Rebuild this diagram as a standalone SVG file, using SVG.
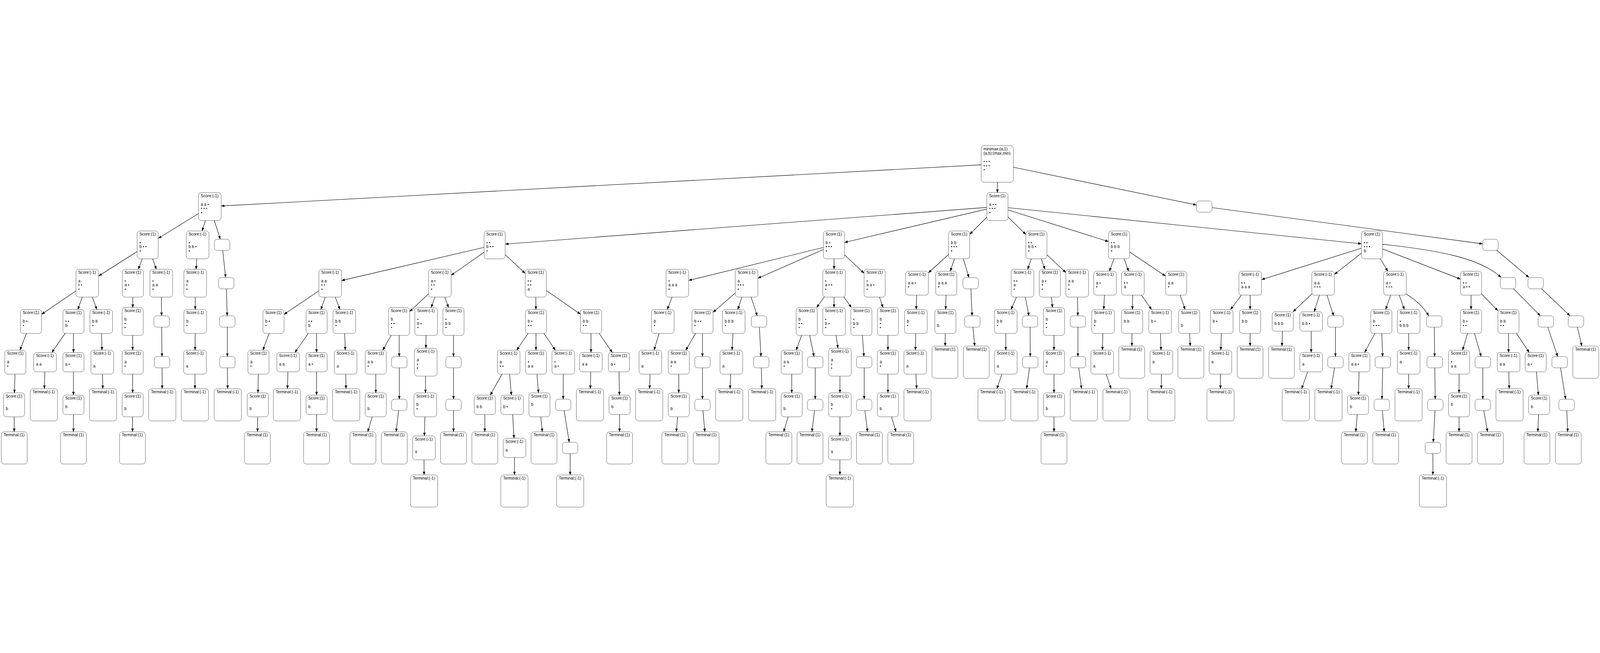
<svg xmlns="http://www.w3.org/2000/svg" width="7351" height="1672" viewBox="0 0 7351 1672">
<defs>
<marker id="ah" viewBox="0 0 15 12" refX="15" refY="6" markerWidth="15" markerHeight="12" markerUnits="userSpaceOnUse" orient="auto"><path d="M0,0 L15,6 L0,12 z" fill="#000"/></marker>
</defs>
<style>
svg{width:100vw;height:100vh;display:block}
#nodes rect{fill:#fff;stroke:#000;stroke-width:1.1;rx:13px;ry:13px}
#nodes text{font-family:"Liberation Sans",Arial,Helvetica,sans-serif;font-size:18.3px;fill:#000}
#edges path{fill:none;stroke:#000;stroke-width:2;marker-end:url(#ah)}
</style>
<rect width="7351" height="1672" fill="#fff"/>
<g id="edges">
<path d="M4582,89 L1016,282.2"/><path d="M4582,89 L4582.5,221"/><path d="M4582,89 L5497.5,277.7"/>
<path d="M964,285 L727,431.1"/><path d="M964,285 L928.4,397"/><path d="M964,285 L1012.2,435"/>
<path d="M4582.5,285 L2321,457.3"/><path d="M4582.5,285 L3880,449.6"/><path d="M4582.5,285 L4455,412.5"/><path d="M4582.5,285 L4713,413.3"/><path d="M4582.5,285 L5093,445.7"/><path d="M4582.5,285 L6255,456"/>
<path d="M5533,285 L6812,456.2"/>
<path d="M678.5,461 L453,604"/><path d="M678.5,461 L635.2,573"/><path d="M678.5,461 L718.3,573"/>
<path d="M908,461 L901,573"/><path d="M1020.5,461 L1036.7,611"/>
<path d="M2272.5,461 L1569,624.9"/><path d="M2272.5,461 L2073,600.6"/><path d="M2272.5,461 L2413,591.8"/>
<path d="M3831.5,461 L3164,624.3"/><path d="M3831.5,461 L3482,614.2"/><path d="M3831.5,461 L3832,573"/><path d="M3831.5,461 L3970,591.3"/>
<path d="M4406.5,461 L4265,589.7"/><path d="M4406.5,461 L4365.9,582"/><path d="M4406.5,461 L4451.7,611"/>
<path d="M4761.5,461 L4721.1,573"/><path d="M4761.5,461 L4801,573"/><path d="M4761.5,461 L4897,588.2"/>
<path d="M5141.5,461 L5097.2,582"/><path d="M5141.5,461 L5185.2,582"/><path d="M5141.5,461 L5355,604.4"/>
<path d="M6303.5,461 L5796,620.6"/><path d="M6303.5,461 L6131,596.2"/><path d="M6303.5,461 L6376,582"/><path d="M6303.5,461 L6710,618.2"/>
<path d="M6352,458 C6600,485 6800,520 6897,611"/>
<path d="M6847.5,461 L7024.8,611"/>
<path d="M401,637 L191,780"/><path d="M401,637 L357.3,758"/><path d="M401,637 L445,758"/>
<path d="M610.5,637 L609.9,749"/><path d="M741,637 L742.3,787"/><path d="M897,637 L897,758"/><path d="M1039.5,637 L1043.8,787"/>
<path d="M1517,637 L1305,780.2"/><path d="M1517,637 L1474,758"/><path d="M1517,637 L1561.7,758"/>
<path d="M2021,637 L1882,767.5"/><path d="M2021,637 L1980.9,749"/><path d="M2021,637 L2060.8,749"/>
<path d="M2461.5,637 L2462.2,758"/><path d="M2461.5,637 L2667,779.4"/>
<path d="M3112,637 L3065.9,758"/>
<path d="M3430,637 L3276,770.8"/><path d="M3430,637 L3389.4,758"/><path d="M3430,637 L3479,787"/>
<path d="M3832,637 L3752.1,749"/><path d="M3832,637 L3832,749"/><path d="M3832,637 L3911.9,749"/>
<path d="M4018.5,637 L4057.3,749"/><path d="M4213,637 L4209.6,758"/><path d="M4347.5,637 L4344.8,758"/><path d="M4459.5,637 L4466.3,787"/>
<path d="M4698,637 L4645.1,758"/><path d="M4698,637 L4727.4,787"/>
<path d="M4823.5,637 L4835.6,749"/><path d="M4949,637 L4952,787"/><path d="M5077,637 L5070.8,758"/>
<path d="M5205,637 L5202.6,758"/><path d="M5205,637 L5290.9,758"/>
<path d="M5403.5,637 L5444.8,758"/>
<path d="M5744,637 L5653.9,758"/><path d="M5744,637 L5743.6,758"/>
<path d="M6079,637 L5940.4,768.5"/><path d="M6079,637 L6037.9,768.5"/><path d="M6079,637 L6127.2,787"/>
<path d="M6409,637 L6366,758"/><path d="M6409,637 L6452.3,758"/>
<path d="M6440,675 C6495,705 6540,745 6564,787"/>
<path d="M6758.5,637 L6758.5,758"/><path d="M6758.5,637 L6882,763.4"/>
<path d="M6928.5,637 L7076.8,787"/><path d="M7055.5,637 L7213.2,787"/>
<path d="M142.5,813 L91.7,945"/><path d="M337.5,813 L238.1,955.5"/><path d="M337.5,813 L337.5,955.5"/>
<path d="M465,813 L468.5,945"/><path d="M609.5,813 L609.5,945"/><path d="M742.5,813 L744.2,974"/><path d="M897,813 L896.3,945"/><path d="M1044.5,813 L1044.5,974"/>
<path d="M1256.5,813 L1207.8,945"/><path d="M1454.5,813 L1355.1,955.5"/><path d="M1454.5,813 L1454.5,955.5"/><path d="M1582,813 L1586.2,945"/>
<path d="M1833.5,813 L1758,945"/><path d="M1833.5,813 L1834.4,974"/><path d="M1958,813 L1956.7,936"/><path d="M2083.5,813 L2083.5,974"/>
<path d="M2462.5,813 L2373.9,945"/><path d="M2462.5,813 L2462.5,945"/><path d="M2462.5,813 L2551.1,945"/>
<path d="M2715.5,813 L2715.1,955.5"/><path d="M2715.5,813 L2813,955.5"/>
<path d="M3045,813 L3004.8,945"/><path d="M3227.5,813 L3150.6,945"/><path d="M3227.5,813 L3227.5,974"/>
<path d="M3371,813 L3363.2,945"/><path d="M3487.5,813 L3496.1,974"/>
<path d="M3706.5,813 L3657.8,945"/><path d="M3706.5,813 L3740.1,974"/>
<path d="M3832,813 L3849.8,936"/><path d="M3957.5,813 L3969.1,974"/><path d="M4079.5,813 L4079.5,945"/>
<path d="M4208,813 L4205.9,945"/><path d="M4343.5,813 L4342.3,926"/><path d="M4467.5,813 L4478.4,926"/>
<path d="M4621,813 L4621,945"/><path d="M4732.5,813 L4733.4,974"/><path d="M4842.5,813 L4842.5,945"/><path d="M4952.5,813 L4952.5,974"/>
<path d="M5068,813 L5065.2,945"/><path d="M5201.5,813 L5200.3,926"/><path d="M5330,813 L5334.2,945"/><path d="M5463.5,813 L5468.3,926"/>
<path d="M5613,813 L5608.8,945"/><path d="M5743.5,813 L5743.5,926"/><path d="M5893.5,813 L5889.9,926"/><path d="M6024,813 L6024,955.5"/><path d="M6135.5,813 L6135.5,974"/>
<path d="M6346.5,813 L6269.5,955.5"/><path d="M6346.5,813 L6352.5,974"/><path d="M6472,813 L6472,945"/><path d="M6589.5,813 L6591.2,974"/>
<path d="M6758.5,813 L6719.7,945"/><path d="M6758.5,813 L6805,974"/>
<path d="M6930.5,813 L6931,955.5"/><path d="M6930.5,813 L7025.8,955.5"/>
<path d="M7102.5,813 L7156.7,974"/><path d="M7240.5,813 L7267.7,926"/>
<path d="M70.5,1000 L66.2,1141"/><path d="M207,1000 L203.6,1122"/><path d="M337.5,1000 L337.5,1151.5"/><path d="M470,1000 L472.2,1122"/>
<path d="M609.5,1000 L609.5,1141"/><path d="M744.5,1000 L745.1,1122"/><path d="M896,1000 L895.7,1122"/><path d="M1044.5,1000 L1045.7,1122"/>
<path d="M1187.5,1000 L1185.3,1141"/><path d="M1324,1000 L1320.6,1122"/><path d="M1454.5,1000 L1454.5,1151.5"/><path d="M1588,1000 L1589.6,1122"/>
<path d="M1726.5,1000 L1726.5,1141"/><path d="M1834.5,1000 L1834.5,1170"/><path d="M1956,1000 L1954.6,1141"/><path d="M2083.5,1000 L2083.5,1170"/>
<path d="M2337,1000 L2252.4,1151.5"/><path d="M2337,1000 L2349.4,1151.5"/><path d="M2462.5,1000 L2474,1141"/><path d="M2588,1000 L2587.5,1170"/>
<path d="M2715,1000 L2712.2,1122"/><path d="M2843.5,1000 L2845.8,1151.5"/><path d="M2988,1000 L2984.6,1122"/>
<path d="M3118.5,1000 L3118.5,1141"/><path d="M3227.5,1000 L3227.5,1170"/><path d="M3360,1000 L3354.1,1122"/><path d="M3497.5,1000 L3500,1122"/>
<path d="M3637.5,1000 L3637.5,1141"/><path d="M3745.5,1000 L3745.5,1170"/><path d="M3859,1000 L3859,1141"/><path d="M3970.5,1000 L3970.5,1170"/>
<path d="M4079.5,1000 L4079.5,1141"/><path d="M4205,1000 L4211.5,1122"/><path d="M4621,1000 L4580.2,1122"/><path d="M4733.5,1000 L4716.7,1122"/>
<path d="M4842.5,1000 L4842.5,1141"/><path d="M4952.5,1000 L4969.3,1122"/><path d="M5064,1000 L5104.8,1122"/><path d="M5336,1000 L5335.7,1122"/>
<path d="M5607,1000 L5607.3,1122"/><path d="M6024,1000 L5980.1,1122"/><path d="M6135.5,1000 L6115.6,1122"/>
<path d="M6245.5,1000 L6240.9,1151.5"/><path d="M6353.5,1000 L6349.2,1170"/><path d="M6472,1000 L6471.7,1122"/><path d="M6591.5,1000 L6594.1,1170"/>
<path d="M6703.5,1000 L6703.5,1141"/><path d="M6812.5,1000 L6812.5,1170"/><path d="M6931,1000 L6933.8,1122"/><path d="M7055.5,1000 L7067.9,1151.5"/><path d="M7165.5,1000 L7193.3,1170"/>
<path d="M64.5,1196 L65.5,1320"/><path d="M337.5,1196 L337.5,1320"/><path d="M609.5,1196 L608.9,1320"/><path d="M1184.5,1196 L1183.2,1320"/>
<path d="M1454.5,1196 L1454.5,1320"/><path d="M1726.5,1196 L1689.5,1320"/><path d="M1834.5,1196 L1820.1,1320"/><path d="M1954,1196 L1949.7,1339"/>
<path d="M2083.5,1196 L2083.5,1320"/><path d="M2227.5,1196 L2227.5,1320"/><path d="M2353,1196 L2361.5,1349.5"/><path d="M2478.5,1196 L2491.7,1320"/>
<path d="M2587.5,1196 L2615.3,1368"/><path d="M2846.5,1196 L2846.5,1320"/><path d="M3118.5,1196 L3107.2,1320"/><path d="M3227.5,1196 L3238.1,1320"/>
<path d="M3637.5,1196 L3600.5,1320"/><path d="M3745.5,1196 L3730.5,1320"/><path d="M3859,1196 L3859,1339"/><path d="M3970.5,1196 L3985.7,1320"/>
<path d="M4079.5,1196 L4116.5,1320"/><path d="M4842.5,1196 L4842.5,1320"/><path d="M6239.5,1196 L6228.9,1320"/><path d="M6348.5,1196 L6359.8,1320"/>
<path d="M6594.5,1196 L6584.9,1368"/><path d="M6703.5,1196 L6703.5,1320"/><path d="M6812.5,1196 L6834.4,1320"/><path d="M7071.5,1196 L7065.2,1320"/><path d="M7197.5,1196 L7202.5,1320"/>
<path d="M1948,1394 L1948.3,1518"/><path d="M2364,1394 L2363.7,1518"/><path d="M2619.5,1394 L2619.5,1518"/><path d="M3859,1394 L3858.7,1518"/><path d="M6583,1394 L6583.5,1518"/>
</g>
<g id="nodes">
<g id="n0"><rect x="4508" y="5" width="148" height="168"/><text x="4518.5" y="27">minimax:(a,1)</text><text x="4518.5" y="46">(a,b):(max,min)</text><text x="4518.5" y="84">• • •</text><text x="4518.5" y="103">• • •</text><text x="4518.5" y="122">•</text></g>
<g id="n1"><rect x="912" y="221" width="104" height="128"/><text x="922.5" y="242">Score:(-1)</text><text x="922.5" y="281">a a •</text><text x="922.5" y="300">• • •</text><text x="922.5" y="319">•</text></g>
<g id="n2"><rect x="4534" y="221" width="97" height="128"/><text x="4544.5" y="242">Score:(1)</text><text x="4544.5" y="281">a • •</text><text x="4544.5" y="300">• • •</text><text x="4544.5" y="319">•</text></g>
<g id="n3"><rect x="5497.5" y="259" width="71" height="52"/></g>
<g id="n4"><rect x="630" y="397" width="97" height="128"/><text x="640.5" y="418">Score:(1)</text><text x="640.5" y="457">•</text><text x="640.5" y="476">b • •</text><text x="640.5" y="495">•</text></g>
<g id="n5"><rect x="856" y="397" width="104" height="128"/><text x="866.5" y="418">Score:(-1)</text><text x="866.5" y="457">•</text><text x="866.5" y="476">b b •</text><text x="866.5" y="495">•</text></g>
<g id="n6"><rect x="985" y="435" width="71" height="52"/></g>
<g id="n7"><rect x="2224" y="397" width="97" height="128"/><text x="2234.5" y="418">Score:(1)</text><text x="2234.5" y="457">• •</text><text x="2234.5" y="476">b • •</text><text x="2234.5" y="495">•</text></g>
<g id="n8"><rect x="3783" y="397" width="97" height="128"/><text x="3793.5" y="418">Score:(1)</text><text x="3793.5" y="457">b •</text><text x="3793.5" y="476">• • •</text><text x="3793.5" y="495">•</text></g>
<g id="n9"><rect x="4358" y="397" width="97" height="128"/><text x="4368.5" y="418">Score:(1)</text><text x="4368.5" y="457">b b</text><text x="4368.5" y="476">• • •</text><text x="4368.5" y="495">•</text></g>
<g id="n10"><rect x="4713" y="397" width="97" height="128"/><text x="4723.5" y="418">Score:(1)</text><text x="4723.5" y="457">• •</text><text x="4723.5" y="476">b b •</text><text x="4723.5" y="495">•</text></g>
<g id="n11"><rect x="5093" y="397" width="97" height="128"/><text x="5103.5" y="418">Score:(1)</text><text x="5103.5" y="457">• •</text><text x="5103.5" y="476">b b b</text><text x="5103.5" y="495">•</text></g>
<g id="n12"><rect x="6255" y="397" width="97" height="128"/><text x="6265.5" y="418">Score:(1)</text><text x="6265.5" y="457">• •</text><text x="6265.5" y="476">• • •</text><text x="6265.5" y="495">b</text></g>
<g id="n13"><rect x="6812" y="435" width="71" height="52"/></g>
<g id="n14"><rect x="349" y="573" width="104" height="128"/><text x="359.5" y="594">Score:(-1)</text><text x="359.5" y="633">a</text><text x="359.5" y="652">• •</text><text x="359.5" y="671">•</text></g>
<g id="n15"><rect x="562" y="573" width="97" height="128"/><text x="572.5" y="594">Score:(1)</text><text x="572.5" y="633">•</text><text x="572.5" y="652">a •</text><text x="572.5" y="671">•</text></g>
<g id="n16"><rect x="689" y="573" width="104" height="128"/><text x="699.5" y="594">Score:(-1)</text><text x="699.5" y="633">•</text><text x="699.5" y="652">a a</text><text x="699.5" y="671">•</text></g>
<g id="n17"><rect x="845" y="573" width="104" height="128"/><text x="855.5" y="594">Score:(-1)</text><text x="855.5" y="633">a</text><text x="855.5" y="652">•</text><text x="855.5" y="671">•</text></g>
<g id="n18"><rect x="1004" y="611" width="71" height="52"/></g>
<g id="n19"><rect x="1465" y="573" width="104" height="128"/><text x="1475.5" y="594">Score:(-1)</text><text x="1475.5" y="633">a a</text><text x="1475.5" y="652">• •</text><text x="1475.5" y="671">•</text></g>
<g id="n20"><rect x="1969" y="573" width="104" height="128"/><text x="1979.5" y="594">Score:(-1)</text><text x="1979.5" y="633">a •</text><text x="1979.5" y="652">• •</text><text x="1979.5" y="671">•</text></g>
<g id="n21"><rect x="2413" y="573" width="97" height="128"/><text x="2423.5" y="594">Score:(1)</text><text x="2423.5" y="633">• •</text><text x="2423.5" y="652">• •</text><text x="2423.5" y="671">a</text></g>
<g id="n22"><rect x="3060" y="573" width="104" height="128"/><text x="3070.5" y="594">Score:(-1)</text><text x="3070.5" y="633">•</text><text x="3070.5" y="652">a a a</text><text x="3070.5" y="671">•</text></g>
<g id="n23"><rect x="3378" y="573" width="104" height="128"/><text x="3388.5" y="594">Score:(-1)</text><text x="3388.5" y="633">a</text><text x="3388.5" y="652">• • •</text><text x="3388.5" y="671">•</text></g>
<g id="n24"><rect x="3780" y="573" width="104" height="128"/><text x="3790.5" y="594">Score:(-1)</text><text x="3790.5" y="633">•</text><text x="3790.5" y="652">a • •</text><text x="3790.5" y="671">•</text></g>
<g id="n25"><rect x="3970" y="573" width="97" height="128"/><text x="3980.5" y="594">Score:(1)</text><text x="3980.5" y="633">•</text><text x="3980.5" y="652">a a •</text><text x="3980.5" y="671">•</text></g>
<g id="n26"><rect x="4161" y="582" width="104" height="110"/><text x="4171.5" y="603">Score:(-1)</text><text x="4171.5" y="642">a a •</text><text x="4171.5" y="661">•</text></g>
<g id="n27"><rect x="4299" y="582" width="97" height="110"/><text x="4309.5" y="603">Score:(1)</text><text x="4309.5" y="642">a a a</text><text x="4309.5" y="661">•</text></g>
<g id="n28"><rect x="4424" y="611" width="71" height="52"/></g>
<g id="n29"><rect x="4646" y="573" width="104" height="128"/><text x="4656.5" y="594">Score:(-1)</text><text x="4656.5" y="633">• •</text><text x="4656.5" y="652">a</text><text x="4656.5" y="671">•</text></g>
<g id="n30"><rect x="4775" y="573" width="97" height="128"/><text x="4785.5" y="594">Score:(1)</text><text x="4785.5" y="633">a •</text><text x="4785.5" y="652">•</text><text x="4785.5" y="671">•</text></g>
<g id="n31"><rect x="4897" y="573" width="104" height="128"/><text x="4907.5" y="594">Score:(-1)</text><text x="4907.5" y="633">a a</text><text x="4907.5" y="652">•</text><text x="4907.5" y="671">•</text></g>
<g id="n32"><rect x="5025" y="582" width="104" height="110"/><text x="5035.5" y="603">Score:(-1)</text><text x="5035.5" y="642">a •</text><text x="5035.5" y="661">•</text></g>
<g id="n33"><rect x="5153" y="582" width="104" height="110"/><text x="5163.5" y="603">Score:(-1)</text><text x="5163.5" y="642">• •</text><text x="5163.5" y="661">a</text></g>
<g id="n34"><rect x="5355" y="582" width="97" height="110"/><text x="5365.5" y="603">Score:(1)</text><text x="5365.5" y="642">a a</text><text x="5365.5" y="661">•</text></g>
<g id="n35"><rect x="5692" y="582" width="104" height="110"/><text x="5702.5" y="603">Score:(-1)</text><text x="5702.5" y="642">• •</text><text x="5702.5" y="661">a a a</text></g>
<g id="n36"><rect x="6027" y="582" width="104" height="110"/><text x="6037.5" y="603">Score:(-1)</text><text x="6037.5" y="642">a a</text><text x="6037.5" y="661">• • •</text></g>
<g id="n37"><rect x="6357" y="582" width="104" height="110"/><text x="6367.5" y="603">Score:(-1)</text><text x="6367.5" y="642">a •</text><text x="6367.5" y="661">• • •</text></g>
<g id="n38"><rect x="6710" y="582" width="97" height="110"/><text x="6720.5" y="603">Score:(1)</text><text x="6720.5" y="642">• •</text><text x="6720.5" y="661">a • •</text></g>
<g id="n39"><rect x="6893" y="611" width="71" height="52"/></g>
<g id="n40"><rect x="7020" y="611" width="71" height="52"/></g>
<g id="n41"><rect x="94" y="758" width="97" height="110"/><text x="104.5" y="779">Score:(1)</text><text x="104.5" y="818">b •</text><text x="104.5" y="837">•</text></g>
<g id="n42"><rect x="289" y="758" width="97" height="110"/><text x="299.5" y="779">Score:(1)</text><text x="299.5" y="818">• •</text><text x="299.5" y="837">b</text></g>
<g id="n43"><rect x="413" y="758" width="104" height="110"/><text x="423.5" y="779">Score:(-1)</text><text x="423.5" y="818">b b</text><text x="423.5" y="837">•</text></g>
<g id="n44"><rect x="561" y="749" width="97" height="128"/><text x="571.5" y="770">Score:(1)</text><text x="571.5" y="809">b</text><text x="571.5" y="828">•</text><text x="571.5" y="847">•</text></g>
<g id="n45"><rect x="707" y="787" width="71" height="52"/></g>
<g id="n46"><rect x="845" y="758" width="104" height="110"/><text x="855.5" y="779">Score:(-1)</text><text x="855.5" y="818">b</text><text x="855.5" y="837">•</text></g>
<g id="n47"><rect x="1009" y="787" width="71" height="52"/></g>
<g id="n48"><rect x="1208" y="758" width="97" height="110"/><text x="1218.5" y="779">Score:(1)</text><text x="1218.5" y="818">b •</text><text x="1218.5" y="837">•</text></g>
<g id="n49"><rect x="1406" y="758" width="97" height="110"/><text x="1416.5" y="779">Score:(1)</text><text x="1416.5" y="818">• •</text><text x="1416.5" y="837">b</text></g>
<g id="n50"><rect x="1530" y="758" width="104" height="110"/><text x="1540.5" y="779">Score:(-1)</text><text x="1540.5" y="818">b b</text><text x="1540.5" y="837">•</text></g>
<g id="n51"><rect x="1785" y="749" width="97" height="128"/><text x="1795.5" y="770">Score:(1)</text><text x="1795.5" y="809">b</text><text x="1795.5" y="828">• •</text><text x="1795.5" y="847">•</text></g>
<g id="n52"><rect x="1906" y="749" width="104" height="128"/><text x="1916.5" y="770">Score:(-1)</text><text x="1916.5" y="809">•</text><text x="1916.5" y="828">b •</text><text x="1916.5" y="847">•</text></g>
<g id="n53"><rect x="2035" y="749" width="97" height="128"/><text x="2045.5" y="770">Score:(1)</text><text x="2045.5" y="809">•</text><text x="2045.5" y="828">b b</text><text x="2045.5" y="847">•</text></g>
<g id="n54"><rect x="2414" y="758" width="97" height="110"/><text x="2424.5" y="779">Score:(1)</text><text x="2424.5" y="818">b •</text><text x="2424.5" y="837">• •</text></g>
<g id="n55"><rect x="2667" y="758" width="97" height="110"/><text x="2677.5" y="779">Score:(1)</text><text x="2677.5" y="818">b b</text><text x="2677.5" y="837">• •</text></g>
<g id="n56"><rect x="2993" y="758" width="104" height="110"/><text x="3003.5" y="779">Score:(-1)</text><text x="3003.5" y="818">b</text><text x="3003.5" y="837">•</text></g>
<g id="n57"><rect x="3179" y="758" width="97" height="110"/><text x="3189.5" y="779">Score:(1)</text><text x="3189.5" y="818">b • •</text><text x="3189.5" y="837">•</text></g>
<g id="n58"><rect x="3319" y="758" width="104" height="110"/><text x="3329.5" y="779">Score:(-1)</text><text x="3329.5" y="818">b b b</text><text x="3329.5" y="837">•</text></g>
<g id="n59"><rect x="3452" y="787" width="71" height="52"/></g>
<g id="n60"><rect x="3658" y="749" width="97" height="128"/><text x="3668.5" y="770">Score:(1)</text><text x="3668.5" y="809">b</text><text x="3668.5" y="828">• •</text><text x="3668.5" y="847">•</text></g>
<g id="n61"><rect x="3780" y="749" width="104" height="128"/><text x="3790.5" y="770">Score:(-1)</text><text x="3790.5" y="809">•</text><text x="3790.5" y="828">b •</text><text x="3790.5" y="847">•</text></g>
<g id="n62"><rect x="3909" y="749" width="97" height="128"/><text x="3919.5" y="770">Score:(1)</text><text x="3919.5" y="809">•</text><text x="3919.5" y="828">b b</text><text x="3919.5" y="847">•</text></g>
<g id="n63"><rect x="4031" y="749" width="97" height="128"/><text x="4041.5" y="770">Score:(1)</text><text x="4041.5" y="809">b</text><text x="4041.5" y="828">•</text><text x="4041.5" y="847">•</text></g>
<g id="n64"><rect x="4156" y="758" width="104" height="110"/><text x="4166.5" y="779">Score:(-1)</text><text x="4166.5" y="818">b</text><text x="4166.5" y="837">•</text></g>
<g id="n65"><rect x="4295" y="758" width="97" height="110"/><text x="4305.5" y="779">Score:(1)</text><text x="4305.5" y="837">b</text></g>
<g id="n66"><rect x="4432" y="787" width="71" height="52"/></g>
<g id="n67"><rect x="4569" y="758" width="104" height="110"/><text x="4579.5" y="779">Score:(-1)</text><text x="4579.5" y="818">b b</text><text x="4579.5" y="837">•</text></g>
<g id="n68"><rect x="4697" y="787" width="71" height="52"/></g>
<g id="n69"><rect x="4794" y="749" width="97" height="128"/><text x="4804.5" y="770">Score:(1)</text><text x="4804.5" y="809">b</text><text x="4804.5" y="828">•</text><text x="4804.5" y="847">•</text></g>
<g id="n70"><rect x="4917" y="787" width="71" height="52"/></g>
<g id="n71"><rect x="5016" y="758" width="104" height="110"/><text x="5026.5" y="779">Score:(-1)</text><text x="5026.5" y="818">b</text><text x="5026.5" y="837">•</text></g>
<g id="n72"><rect x="5153" y="758" width="97" height="110"/><text x="5163.5" y="779">Score:(1)</text><text x="5163.5" y="818">b b</text></g>
<g id="n73"><rect x="5278" y="758" width="104" height="110"/><text x="5288.5" y="779">Score:(-1)</text><text x="5288.5" y="818">b •</text></g>
<g id="n74"><rect x="5415" y="758" width="97" height="110"/><text x="5425.5" y="779">Score:(1)</text><text x="5425.5" y="837">b</text></g>
<g id="n75"><rect x="5561" y="758" width="104" height="110"/><text x="5571.5" y="779">Score:(-1)</text><text x="5571.5" y="818">b •</text></g>
<g id="n76"><rect x="5695" y="758" width="97" height="110"/><text x="5705.5" y="779">Score:(1)</text><text x="5705.5" y="818">b b</text></g>
<g id="n77"><rect x="5845" y="768.5" width="97" height="89"/><text x="5855.5" y="789.5">Score:(1)</text><text x="5855.5" y="828.5">b b b</text></g>
<g id="n78"><rect x="5972" y="768.5" width="104" height="89"/><text x="5982.5" y="789.5">Score:(-1)</text><text x="5982.5" y="828.5">b b •</text></g>
<g id="n79"><rect x="6100" y="787" width="71" height="52"/></g>
<g id="n80"><rect x="6298" y="758" width="97" height="110"/><text x="6308.5" y="779">Score:(1)</text><text x="6308.5" y="818">b</text><text x="6308.5" y="837">• • •</text></g>
<g id="n81"><rect x="6420" y="758" width="104" height="110"/><text x="6430.5" y="779">Score:(-1)</text><text x="6430.5" y="818">•</text><text x="6430.5" y="837">b b b</text></g>
<g id="n82"><rect x="6554" y="787" width="71" height="52"/></g>
<g id="n83"><rect x="6710" y="758" width="97" height="110"/><text x="6720.5" y="779">Score:(1)</text><text x="6720.5" y="818">b •</text><text x="6720.5" y="837">• •</text></g>
<g id="n84"><rect x="6882" y="758" width="97" height="110"/><text x="6892.5" y="779">Score:(1)</text><text x="6892.5" y="818">b b</text><text x="6892.5" y="837">• •</text></g>
<g id="n85"><rect x="7067" y="787" width="71" height="52"/></g>
<g id="n86"><rect x="7205" y="787" width="71" height="52"/></g>
<g id="n87"><rect x="22" y="945" width="97" height="110"/><text x="32.5" y="966">Score:(1)</text><text x="32.5" y="1005">a</text><text x="32.5" y="1024">•</text></g>
<g id="n88"><rect x="155" y="955.5" width="104" height="89"/><text x="165.5" y="976.5">Score:(-1)</text><text x="165.5" y="1015.5">a a</text></g>
<g id="n89"><rect x="289" y="955.5" width="97" height="89"/><text x="299.5" y="976.5">Score:(1)</text><text x="299.5" y="1015.5">a •</text></g>
<g id="n90"><rect x="418" y="945" width="104" height="110"/><text x="428.5" y="966">Score:(-1)</text><text x="428.5" y="1024">a</text></g>
<g id="n91"><rect x="561" y="945" width="97" height="110"/><text x="571.5" y="966">Score:(1)</text><text x="571.5" y="1005">a</text><text x="571.5" y="1024">•</text></g>
<g id="n92"><rect x="709" y="974" width="71" height="52"/></g>
<g id="n93"><rect x="844" y="945" width="104" height="110"/><text x="854.5" y="966">Score:(-1)</text><text x="854.5" y="1024">a</text></g>
<g id="n94"><rect x="1009" y="974" width="71" height="52"/></g>
<g id="n95"><rect x="1139" y="945" width="97" height="110"/><text x="1149.5" y="966">Score:(1)</text><text x="1149.5" y="1005">a</text><text x="1149.5" y="1024">•</text></g>
<g id="n96"><rect x="1272" y="955.5" width="104" height="89"/><text x="1282.5" y="976.5">Score:(-1)</text><text x="1282.5" y="1015.5">a a</text></g>
<g id="n97"><rect x="1406" y="955.5" width="97" height="89"/><text x="1416.5" y="976.5">Score:(1)</text><text x="1416.5" y="1015.5">a •</text></g>
<g id="n98"><rect x="1536" y="945" width="104" height="110"/><text x="1546.5" y="966">Score:(-1)</text><text x="1546.5" y="1024">a</text></g>
<g id="n99"><rect x="1678" y="945" width="97" height="110"/><text x="1688.5" y="966">Score:(1)</text><text x="1688.5" y="1005">a a</text><text x="1688.5" y="1024">•</text></g>
<g id="n100"><rect x="1799" y="974" width="71" height="52"/></g>
<g id="n101"><rect x="1904" y="936" width="104" height="128"/><text x="1914.5" y="957">Score:(-1)</text><text x="1914.5" y="996">a</text><text x="1914.5" y="1015">•</text><text x="1914.5" y="1034">•</text></g>
<g id="n102"><rect x="2048" y="974" width="71" height="52"/></g>
<g id="n103"><rect x="2285" y="945" width="104" height="110"/><text x="2295.5" y="966">Score:(-1)</text><text x="2295.5" y="1005">a</text><text x="2295.5" y="1024">• •</text></g>
<g id="n104"><rect x="2414" y="945" width="97" height="110"/><text x="2424.5" y="966">Score:(1)</text><text x="2424.5" y="1005">•</text><text x="2424.5" y="1024">a a</text></g>
<g id="n105"><rect x="2536" y="945" width="104" height="110"/><text x="2546.5" y="966">Score:(-1)</text><text x="2546.5" y="1005">•</text><text x="2546.5" y="1024">a •</text></g>
<g id="n106"><rect x="2663" y="955.5" width="104" height="89"/><text x="2673.5" y="976.5">Score:(-1)</text><text x="2673.5" y="1015.5">a a</text></g>
<g id="n107"><rect x="2795" y="955.5" width="97" height="89"/><text x="2805.5" y="976.5">Score:(1)</text><text x="2805.5" y="1015.5">a •</text></g>
<g id="n108"><rect x="2936" y="945" width="104" height="110"/><text x="2946.5" y="966">Score:(-1)</text><text x="2946.5" y="1024">a</text></g>
<g id="n109"><rect x="3070" y="945" width="97" height="110"/><text x="3080.5" y="966">Score:(1)</text><text x="3080.5" y="1005">a a</text><text x="3080.5" y="1024">•</text></g>
<g id="n110"><rect x="3192" y="974" width="71" height="52"/></g>
<g id="n111"><rect x="3308" y="945" width="104" height="110"/><text x="3318.5" y="966">Score:(-1)</text><text x="3318.5" y="1024">a</text></g>
<g id="n112"><rect x="3462" y="974" width="71" height="52"/></g>
<g id="n113"><rect x="3589" y="945" width="97" height="110"/><text x="3599.5" y="966">Score:(1)</text><text x="3599.5" y="1005">a a</text><text x="3599.5" y="1024">•</text></g>
<g id="n114"><rect x="3710" y="974" width="71" height="52"/></g>
<g id="n115"><rect x="3807" y="936" width="104" height="128"/><text x="3817.5" y="957">Score:(-1)</text><text x="3817.5" y="996">a</text><text x="3817.5" y="1015">•</text><text x="3817.5" y="1034">•</text></g>
<g id="n116"><rect x="3935" y="974" width="71" height="52"/></g>
<g id="n117"><rect x="4031" y="945" width="97" height="110"/><text x="4041.5" y="966">Score:(1)</text><text x="4041.5" y="1005">a</text><text x="4041.5" y="1024">•</text></g>
<g id="n118"><rect x="4153" y="945" width="104" height="110"/><text x="4163.5" y="966">Score:(-1)</text><text x="4163.5" y="1024">a</text></g>
<g id="n119"><rect x="4282" y="926" width="119" height="148"/><text x="4292.5" y="947">Terminal:(1)</text></g>
<g id="n120"><rect x="4426" y="926" width="119" height="148"/><text x="4436.5" y="947">Terminal:(1)</text></g>
<g id="n121"><rect x="4569" y="945" width="104" height="110"/><text x="4579.5" y="966">Score:(-1)</text><text x="4579.5" y="1024">a</text></g>
<g id="n122"><rect x="4698" y="974" width="71" height="52"/></g>
<g id="n123"><rect x="4794" y="945" width="97" height="110"/><text x="4804.5" y="966">Score:(1)</text><text x="4804.5" y="1005">a</text><text x="4804.5" y="1024">•</text></g>
<g id="n124"><rect x="4917" y="974" width="71" height="52"/></g>
<g id="n125"><rect x="5012" y="945" width="104" height="110"/><text x="5022.5" y="966">Score:(-1)</text><text x="5022.5" y="1024">a</text></g>
<g id="n126"><rect x="5140" y="926" width="119" height="148"/><text x="5150.5" y="947">Terminal:(1)</text></g>
<g id="n127"><rect x="5284" y="945" width="104" height="110"/><text x="5294.5" y="966">Score:(-1)</text><text x="5294.5" y="1005">a</text></g>
<g id="n128"><rect x="5412" y="926" width="119" height="148"/><text x="5422.5" y="947">Terminal:(1)</text></g>
<g id="n129"><rect x="5555" y="945" width="104" height="110"/><text x="5565.5" y="966">Score:(-1)</text><text x="5565.5" y="1005">a</text></g>
<g id="n130"><rect x="5684" y="926" width="119" height="148"/><text x="5694.5" y="947">Terminal:(1)</text></g>
<g id="n131"><rect x="5828" y="926" width="119" height="148"/><text x="5838.5" y="947">Terminal:(1)</text></g>
<g id="n132"><rect x="5972" y="955.5" width="104" height="89"/><text x="5982.5" y="976.5">Score:(-1)</text><text x="5982.5" y="1015.5">a</text></g>
<g id="n133"><rect x="6100" y="974" width="71" height="52"/></g>
<g id="n134"><rect x="6197" y="955.5" width="97" height="89"/><text x="6207.5" y="976.5">Score:(1)</text><text x="6207.5" y="1015.5">a a •</text></g>
<g id="n135"><rect x="6318" y="974" width="71" height="52"/></g>
<g id="n136"><rect x="6420" y="945" width="104" height="110"/><text x="6430.5" y="966">Score:(-1)</text><text x="6430.5" y="1005">a</text></g>
<g id="n137"><rect x="6556" y="974" width="71" height="52"/></g>
<g id="n138"><rect x="6655" y="945" width="97" height="110"/><text x="6665.5" y="966">Score:(1)</text><text x="6665.5" y="1005">•</text><text x="6665.5" y="1024">a a</text></g>
<g id="n139"><rect x="6777" y="974" width="71" height="52"/></g>
<g id="n140"><rect x="6879" y="955.5" width="104" height="89"/><text x="6889.5" y="976.5">Score:(-1)</text><text x="6889.5" y="1015.5">a a</text></g>
<g id="n141"><rect x="7007" y="955.5" width="97" height="89"/><text x="7017.5" y="976.5">Score:(1)</text><text x="7017.5" y="1015.5">a •</text></g>
<g id="n142"><rect x="7130" y="974" width="71" height="52"/></g>
<g id="n143"><rect x="7226" y="926" width="119" height="148"/><text x="7236.5" y="947">Terminal:(1)</text></g>
<g id="n144"><rect x="16" y="1141" width="97" height="110"/><text x="26.5" y="1162">Score:(1)</text><text x="26.5" y="1220">b</text></g>
<g id="n145"><rect x="139" y="1122" width="125" height="148"/><text x="149.5" y="1143">Terminal:(-1)</text></g>
<g id="n146"><rect x="289" y="1151.5" width="97" height="89"/><text x="299.5" y="1172.5">Score:(1)</text><text x="299.5" y="1211.5">b</text></g>
<g id="n147"><rect x="411" y="1122" width="125" height="148"/><text x="421.5" y="1143">Terminal:(-1)</text></g>
<g id="n148"><rect x="561" y="1141" width="97" height="110"/><text x="571.5" y="1162">Score:(1)</text><text x="571.5" y="1220">b</text></g>
<g id="n149"><rect x="683" y="1122" width="125" height="148"/><text x="693.5" y="1143">Terminal:(-1)</text></g>
<g id="n150"><rect x="833" y="1122" width="125" height="148"/><text x="843.5" y="1143">Terminal:(-1)</text></g>
<g id="n151"><rect x="984" y="1122" width="125" height="148"/><text x="994.5" y="1143">Terminal:(-1)</text></g>
<g id="n152"><rect x="1136" y="1141" width="97" height="110"/><text x="1146.5" y="1162">Score:(1)</text><text x="1146.5" y="1220">b</text></g>
<g id="n153"><rect x="1256" y="1122" width="125" height="148"/><text x="1266.5" y="1143">Terminal:(-1)</text></g>
<g id="n154"><rect x="1406" y="1151.5" width="97" height="89"/><text x="1416.5" y="1172.5">Score:(1)</text><text x="1416.5" y="1211.5">b</text></g>
<g id="n155"><rect x="1528" y="1122" width="125" height="148"/><text x="1538.5" y="1143">Terminal:(-1)</text></g>
<g id="n156"><rect x="1678" y="1141" width="97" height="110"/><text x="1688.5" y="1162">Score:(1)</text><text x="1688.5" y="1220">b</text></g>
<g id="n157"><rect x="1799" y="1170" width="71" height="52"/></g>
<g id="n158"><rect x="1902" y="1141" width="104" height="110"/><text x="1912.5" y="1162">Score:(-1)</text><text x="1912.5" y="1201">b</text><text x="1912.5" y="1220">•</text></g>
<g id="n159"><rect x="2048" y="1170" width="71" height="52"/></g>
<g id="n160"><rect x="2179" y="1151.5" width="97" height="89"/><text x="2189.5" y="1172.5">Score:(1)</text><text x="2189.5" y="1211.5">b b</text></g>
<g id="n161"><rect x="2301" y="1151.5" width="104" height="89"/><text x="2311.5" y="1172.5">Score:(-1)</text><text x="2311.5" y="1211.5">b •</text></g>
<g id="n162"><rect x="2430" y="1141" width="97" height="110"/><text x="2440.5" y="1162">Score:(1)</text><text x="2440.5" y="1201">b</text></g>
<g id="n163"><rect x="2552" y="1170" width="71" height="52"/></g>
<g id="n164"><rect x="2648" y="1122" width="125" height="148"/><text x="2658.5" y="1143">Terminal:(-1)</text></g>
<g id="n165"><rect x="2798" y="1151.5" width="97" height="89"/><text x="2808.5" y="1172.5">Score:(1)</text><text x="2808.5" y="1211.5">b</text></g>
<g id="n166"><rect x="2920" y="1122" width="125" height="148"/><text x="2930.5" y="1143">Terminal:(-1)</text></g>
<g id="n167"><rect x="3070" y="1141" width="97" height="110"/><text x="3080.5" y="1162">Score:(1)</text><text x="3080.5" y="1220">b</text></g>
<g id="n168"><rect x="3192" y="1170" width="71" height="52"/></g>
<g id="n169"><rect x="3288" y="1122" width="125" height="148"/><text x="3298.5" y="1143">Terminal:(-1)</text></g>
<g id="n170"><rect x="3439" y="1122" width="125" height="148"/><text x="3449.5" y="1143">Terminal:(-1)</text></g>
<g id="n171"><rect x="3589" y="1141" width="97" height="110"/><text x="3599.5" y="1162">Score:(1)</text><text x="3599.5" y="1220">b</text></g>
<g id="n172"><rect x="3710" y="1170" width="71" height="52"/></g>
<g id="n173"><rect x="3807" y="1141" width="104" height="110"/><text x="3817.5" y="1162">Score:(-1)</text><text x="3817.5" y="1201">b</text><text x="3817.5" y="1220">•</text></g>
<g id="n174"><rect x="3935" y="1170" width="71" height="52"/></g>
<g id="n175"><rect x="4031" y="1141" width="97" height="110"/><text x="4041.5" y="1162">Score:(1)</text><text x="4041.5" y="1220">b</text></g>
<g id="n176"><rect x="4153" y="1122" width="125" height="148"/><text x="4163.5" y="1143">Terminal:(-1)</text></g>
<g id="n177"><rect x="4493" y="1122" width="125" height="148"/><text x="4503.5" y="1143">Terminal:(-1)</text></g>
<g id="n178"><rect x="4644" y="1122" width="125" height="148"/><text x="4654.5" y="1143">Terminal:(-1)</text></g>
<g id="n179"><rect x="4794" y="1141" width="97" height="110"/><text x="4804.5" y="1162">Score:(1)</text><text x="4804.5" y="1220">b</text></g>
<g id="n180"><rect x="4917" y="1122" width="125" height="148"/><text x="4927.5" y="1143">Terminal:(-1)</text></g>
<g id="n181"><rect x="5067" y="1122" width="125" height="148"/><text x="5077.5" y="1143">Terminal:(-1)</text></g>
<g id="n182"><rect x="5273" y="1122" width="125" height="148"/><text x="5283.5" y="1143">Terminal:(-1)</text></g>
<g id="n183"><rect x="5545" y="1122" width="125" height="148"/><text x="5555.5" y="1143">Terminal:(-1)</text></g>
<g id="n184"><rect x="5891" y="1122" width="125" height="148"/><text x="5901.5" y="1143">Terminal:(-1)</text></g>
<g id="n185"><rect x="6041" y="1122" width="125" height="148"/><text x="6051.5" y="1143">Terminal:(-1)</text></g>
<g id="n186"><rect x="6191" y="1151.5" width="97" height="89"/><text x="6201.5" y="1172.5">Score:(1)</text><text x="6201.5" y="1211.5">b</text></g>
<g id="n187"><rect x="6313" y="1170" width="71" height="52"/></g>
<g id="n188"><rect x="6409" y="1122" width="125" height="148"/><text x="6419.5" y="1143">Terminal:(-1)</text></g>
<g id="n189"><rect x="6559" y="1170" width="71" height="52"/></g>
<g id="n190"><rect x="6655" y="1141" width="97" height="110"/><text x="6665.5" y="1162">Score:(1)</text><text x="6665.5" y="1201">b</text></g>
<g id="n191"><rect x="6777" y="1170" width="71" height="52"/></g>
<g id="n192"><rect x="6873" y="1122" width="125" height="148"/><text x="6883.5" y="1143">Terminal:(-1)</text></g>
<g id="n193"><rect x="7023" y="1151.5" width="97" height="89"/><text x="7033.5" y="1172.5">Score:(1)</text><text x="7033.5" y="1211.5">b</text></g>
<g id="n194"><rect x="7162" y="1170" width="71" height="52"/></g>
<g id="n195"><rect x="6" y="1320" width="119" height="148"/><text x="16.5" y="1341">Terminal:(1)</text></g>
<g id="n196"><rect x="278" y="1320" width="119" height="148"/><text x="288.5" y="1341">Terminal:(1)</text></g>
<g id="n197"><rect x="549" y="1320" width="119" height="148"/><text x="559.5" y="1341">Terminal:(1)</text></g>
<g id="n198"><rect x="1123" y="1320" width="119" height="148"/><text x="1133.5" y="1341">Terminal:(1)</text></g>
<g id="n199"><rect x="1395" y="1320" width="119" height="148"/><text x="1405.5" y="1341">Terminal:(1)</text></g>
<g id="n200"><rect x="1608" y="1320" width="119" height="148"/><text x="1618.5" y="1341">Terminal:(1)</text></g>
<g id="n201"><rect x="1752" y="1320" width="119" height="148"/><text x="1762.5" y="1341">Terminal:(1)</text></g>
<g id="n202"><rect x="1896" y="1339" width="104" height="110"/><text x="1906.5" y="1360">Score:(-1)</text><text x="1906.5" y="1418">a</text></g>
<g id="n203"><rect x="2024" y="1320" width="119" height="148"/><text x="2034.5" y="1341">Terminal:(1)</text></g>
<g id="n204"><rect x="2168" y="1320" width="119" height="148"/><text x="2178.5" y="1341">Terminal:(1)</text></g>
<g id="n205"><rect x="2312" y="1349.5" width="104" height="89"/><text x="2322.5" y="1370.5">Score:(-1)</text><text x="2322.5" y="1409.5">a</text></g>
<g id="n206"><rect x="2440" y="1320" width="119" height="148"/><text x="2450.5" y="1341">Terminal:(1)</text></g>
<g id="n207"><rect x="2584" y="1368" width="71" height="52"/></g>
<g id="n208"><rect x="2787" y="1320" width="119" height="148"/><text x="2797.5" y="1341">Terminal:(1)</text></g>
<g id="n209"><rect x="3041" y="1320" width="119" height="148"/><text x="3051.5" y="1341">Terminal:(1)</text></g>
<g id="n210"><rect x="3185" y="1320" width="119" height="148"/><text x="3195.5" y="1341">Terminal:(1)</text></g>
<g id="n211"><rect x="3519" y="1320" width="119" height="148"/><text x="3529.5" y="1341">Terminal:(1)</text></g>
<g id="n212"><rect x="3662" y="1320" width="119" height="148"/><text x="3672.5" y="1341">Terminal:(1)</text></g>
<g id="n213"><rect x="3807" y="1339" width="104" height="110"/><text x="3817.5" y="1360">Score:(-1)</text><text x="3817.5" y="1418">a</text></g>
<g id="n214"><rect x="3935" y="1320" width="119" height="148"/><text x="3945.5" y="1341">Terminal:(1)</text></g>
<g id="n215"><rect x="4079" y="1320" width="119" height="148"/><text x="4089.5" y="1341">Terminal:(1)</text></g>
<g id="n216"><rect x="4783" y="1320" width="119" height="148"/><text x="4793.5" y="1341">Terminal:(1)</text></g>
<g id="n217"><rect x="6163" y="1320" width="119" height="148"/><text x="6173.5" y="1341">Terminal:(1)</text></g>
<g id="n218"><rect x="6307" y="1320" width="119" height="148"/><text x="6317.5" y="1341">Terminal:(1)</text></g>
<g id="n219"><rect x="6547.5" y="1368" width="71" height="52"/></g>
<g id="n220"><rect x="6644" y="1320" width="119" height="148"/><text x="6654.5" y="1341">Terminal:(1)</text></g>
<g id="n221"><rect x="6788" y="1320" width="119" height="148"/><text x="6798.5" y="1341">Terminal:(1)</text></g>
<g id="n222"><rect x="7002" y="1320" width="119" height="148"/><text x="7012.5" y="1341">Terminal:(1)</text></g>
<g id="n223"><rect x="7146" y="1320" width="119" height="148"/><text x="7156.5" y="1341">Terminal:(1)</text></g>
<g id="n224"><rect x="1886" y="1518" width="125" height="148"/><text x="1896.5" y="1539">Terminal:(-1)</text></g>
<g id="n225"><rect x="2301" y="1518" width="125" height="148"/><text x="2311.5" y="1539">Terminal:(-1)</text></g>
<g id="n226"><rect x="2557" y="1518" width="125" height="148"/><text x="2567.5" y="1539">Terminal:(-1)</text></g>
<g id="n227"><rect x="3796" y="1518" width="125" height="148"/><text x="3806.5" y="1539">Terminal:(-1)</text></g>
<g id="n228"><rect x="6521" y="1518" width="125" height="148"/><text x="6531.5" y="1539">Terminal:(-1)</text></g>
</g>
</svg>
